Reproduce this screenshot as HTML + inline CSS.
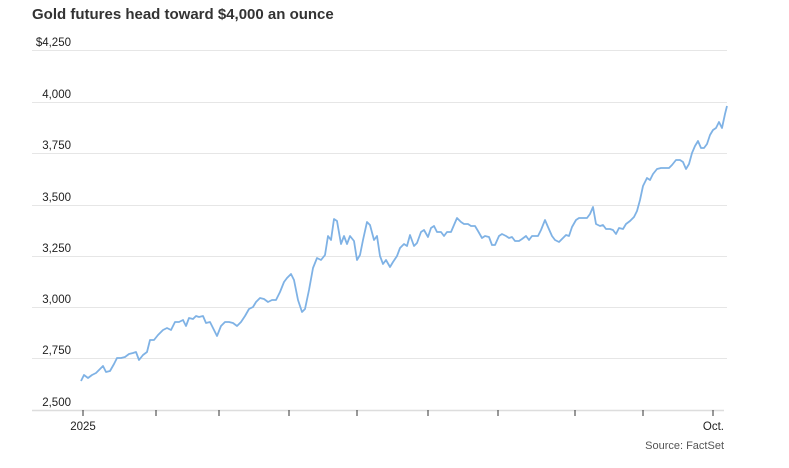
<!DOCTYPE html>
<html><head><style>
body{margin:0;background:#fff;width:789px;height:463px;overflow:hidden;font-family:"Liberation Sans",sans-serif;}
</style></head><body>
<svg width="789" height="463" xmlns="http://www.w3.org/2000/svg" font-family="Liberation Sans, sans-serif">
<text x="32" y="19" font-size="15" font-weight="bold" fill="#333">Gold futures head toward $4,000 an ounce</text>
<g stroke="#e6e6e6" stroke-width="1">
<line x1="32" x2="727" y1="50.5" y2="50.5"/>
<line x1="32" x2="727" y1="102.5" y2="102.5"/>
<line x1="32" x2="727" y1="153.5" y2="153.5"/>
<line x1="32" x2="727" y1="205.5" y2="205.5"/>
<line x1="32" x2="727" y1="256.5" y2="256.5"/>
<line x1="32" x2="727" y1="307.5" y2="307.5"/>
<line x1="32" x2="727" y1="358.5" y2="358.5"/>
</g>
<line x1="32" x2="724" y1="410.5" y2="410.5" stroke="#ddd" stroke-width="1.5"/>
<g stroke="#333" stroke-width="1">
<line x1="83" x2="83" y1="410" y2="416"/><line x1="156" x2="156" y1="410" y2="416"/><line x1="219" x2="219" y1="410" y2="416"/><line x1="289" x2="289" y1="410" y2="416"/><line x1="357" x2="357" y1="410" y2="416"/><line x1="428" x2="428" y1="410" y2="416"/><line x1="498" x2="498" y1="410" y2="416"/><line x1="575" x2="575" y1="410" y2="416"/><line x1="643" x2="643" y1="410" y2="416"/><line x1="713" x2="713" y1="410" y2="416"/>
</g>
<g font-size="11.5" fill="#222" text-anchor="end">
<text x="71" y="46">$4,250</text>
<text x="71" y="98">4,000</text>
<text x="71" y="149">3,750</text>
<text x="71" y="201">3,500</text>
<text x="71" y="252">3,250</text>
<text x="71" y="303">3,000</text>
<text x="71" y="354">2,750</text>
<text x="71" y="406">2,500</text>
</g>
<text x="83" y="430" font-size="11.5" fill="#222" text-anchor="middle">2025</text>
<text x="724" y="430" font-size="11.5" fill="#222" text-anchor="end">Oct.</text>
<text x="724" y="449" font-size="11" fill="#555" text-anchor="end">Source: FactSet</text>
<polyline fill="none" stroke="#7fb2e5" stroke-width="1.8" stroke-linejoin="round" points="81,381 84,375 88,378 92,375 96,373 100,369 103,366 106,372 110,371 114,364 117,358 121,358 125,357 129,354 133,353 136,352 139,360 143,355 147,352 150,340 154,340 158,335 163,330 167,328 171,330 175,322 179,322 183,320 186,326 189,318 193,319 196,316 199,317 203,316 206,323 210,322 213,328 217,336 221,326 225,322 229,322 233,323 237,326 241,322 245,316 249,309 253,307 256,302 260,298 264,299 268,302 272,300 276,300 280,292 284,282 287,278 291,274 294,280 298,300 302,312 305,309 309,290 313,268 317,258 321,260 325,255 328,236 331,240 334,219 337,221 341,244 344,236 347,244 350,236 354,241 357,260 360,255 363,240 367,222 370,225 374,240 377,236 380,256 383,264 386,260 390,267 393,262 397,256 400,248 404,244 407,246 410,235 414,246 417,243 421,232 424,230 428,237 431,228 434,226 437,232 441,232 444,236 447,232 451,232 454,225 457,218 461,222 464,224 468,224 471,226 475,226 478,231 482,238 485,236 489,237 492,245 495,245 499,236 502,234 506,236 509,238 512,237 515,241 519,241 522,239 526,236 529,240 532,236 535,236 538,236 541,230 545,220 548,227 552,236 555,240 559,242 562,239 566,235 569,236 572,227 576,220 579,218 583,218 587,218 590,214 593,207 596,224 600,226 603,225 606,229 610,229 613,230 616,234 619,228 623,229 626,224 630,221 634,217 637,211 640,200 643,186 647,178 650,180 653,174 657,169 661,168 665,168 669,168 672,165 676,160 680,160 683,162 686,169 689,164 692,153 695,146 698,141 701,148 704,148 707,144 710,135 713,130 716,128 719,122 722,128 725,114 727,106"/>
</svg>
</body></html>
